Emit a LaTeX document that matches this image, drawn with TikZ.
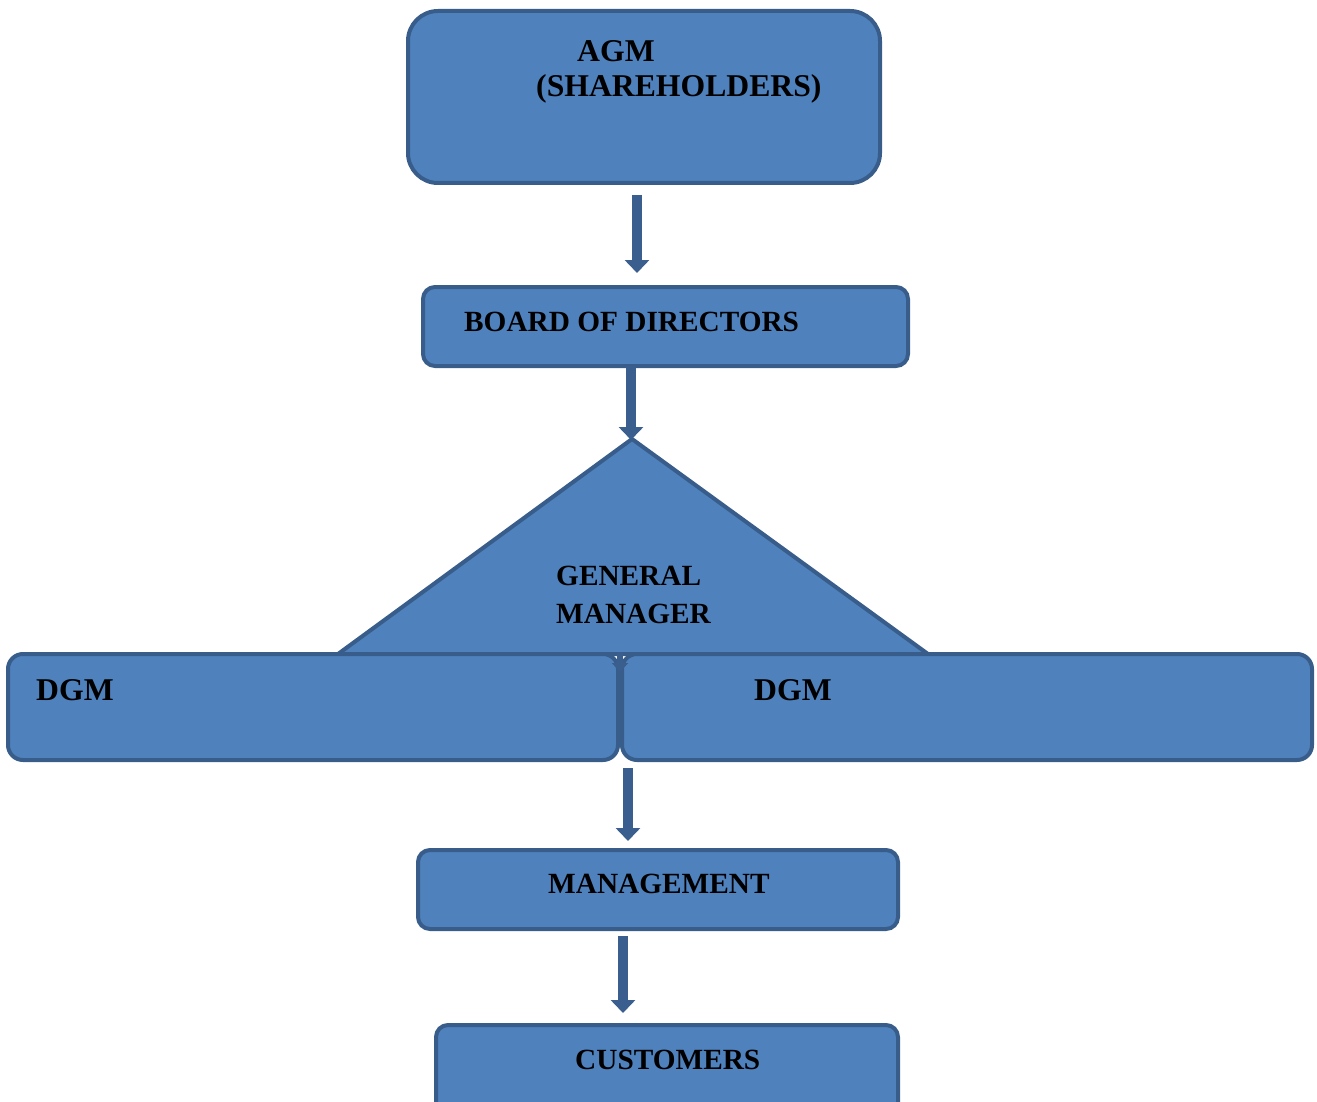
\documentclass[tikz,border=0pt]{standalone}
\usepackage{fontspec}
\setmainfont{Liberation Serif}
\usetikzlibrary{arrows.meta}
\definecolor{boxfill}{HTML}{4F81BD}
\definecolor{boxline}{HTML}{385D8A}
\definecolor{arrowcol}{HTML}{3A5F8F}
\begin{document}
\begin{tikzpicture}[x=1pt,y=-1pt,
  box/.style={draw=boxline, fill=boxfill, line width=4pt, inner sep=0pt},
  lbl/.style={anchor=west, inner sep=0pt, font=\fontsize{29.3}{35}\selectfont\bfseries, text=black},
  biglbl/.style={lbl, font=\fontsize{31.7}{38}\selectfont\bfseries},
  downarrow/.style={draw=arrowcol, line width=10pt,
    -{Triangle[width=24pt,length=13pt]}, arrowcol}]
  \useasboundingbox (0,0) rectangle (1317,1102);
  \clip (0,0) rectangle (1317,1102);

  % top box
  \node[box, rounded corners=30pt, minimum width=472, minimum height=172] (agm) at (644,97) {};
  \node[biglbl] (agmtxt) at (577,51) {AGM};
  \node[biglbl] (shtxt) at (536,89) {(SHAREHOLDERS)};

  % board
  \node[box, rounded corners=12pt, minimum width=485, minimum height=79] (board) at (665.5,326.5) {};
  \node[lbl] (boardtxt) at (464,322) {BOARD OF DIRECTORS};

  % general manager triangle
  \coordinate (gmtop) at (632,439);
  \coordinate (gmleft) at (338,654);
  \coordinate (gmright) at (928,654);
  \filldraw[draw=boxline, fill=boxfill, line width=4pt, line join=miter] (gmtop) -- (gmright) -- (gmleft) -- cycle;
  \node[lbl] (gm1) at (556,576) {GENERAL};
  \node[lbl] (gm2) at (556,614) {MANAGER};

  % deputy general managers
  \node[box, rounded corners=15pt, minimum width=610, minimum height=106] (dgml) at (313,707) {};
  \node[box, rounded corners=15pt, minimum width=690, minimum height=106] (dgmr) at (967,707) {};
  \node[biglbl] (dgmltxt) at (36,690) {DGM};
  \node[biglbl] (dgmrtxt) at (754,690) {DGM};

  % management and customers
  \node[box, rounded corners=12pt, minimum width=480, minimum height=79] (mgmt) at (658,889.5) {};
  \node[lbl] (mgmttxt) at (548,884) {MANAGEMENT};
  \node[box, rounded corners=12pt, minimum width=462, minimum height=90] (cust) at (667,1070) {};
  \node[lbl] (custtxt) at (575,1060) {CUSTOMERS};

  % connector end points
  \coordinate (a1s) at (637,195);  \coordinate (a1e) at (637,273);
  \coordinate (a2s) at (631,366);  \coordinate (a2e) at (631,440);
  \coordinate (a3s) at (620,652);  \coordinate (a3e) at (620,672);
  \coordinate (a4s) at (628,768);  \coordinate (a4e) at (628,841);
  \coordinate (a5s) at (623,936);  \coordinate (a5e) at (623,1013);

  \draw[downarrow] (a1s) -- (a1e);
  \draw[downarrow] (a2s) -- (a2e);
  \draw[downarrow, line width=6pt, -{Triangle[width=16pt,length=9pt]}] (a3s) -- (a3e);
  \draw[downarrow] (a4s) -- (a4e);
  \draw[downarrow] (a5s) -- (a5e);
\end{tikzpicture}
\end{document}
